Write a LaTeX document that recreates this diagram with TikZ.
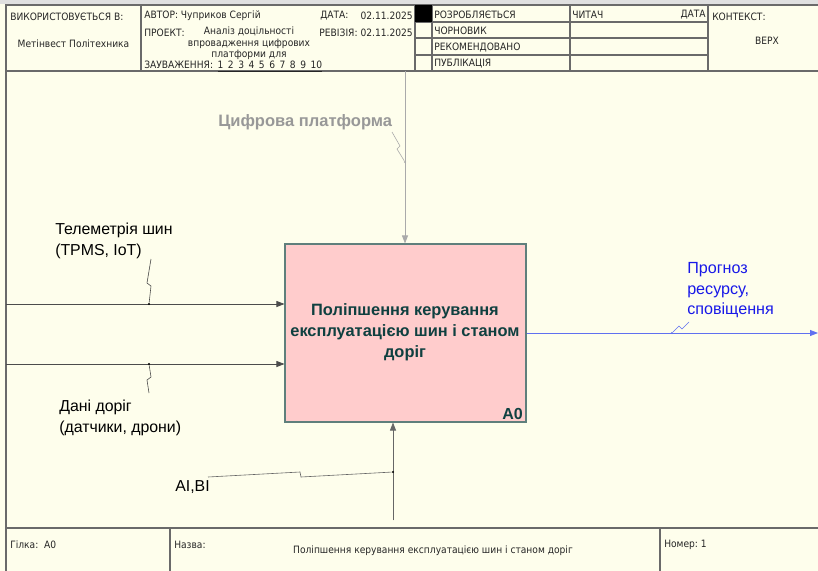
\documentclass[tikz,border=0pt]{standalone}
\usepackage{fontspec}
\setmainfont{Liberation Sans}
\newfontfamily\hdrfont[FakeStretch=0.9]{DejaVu Sans}
\usetikzlibrary{arrows.meta}
\definecolor{bg}{HTML}{FEFEEC}
\definecolor{framec}{HTML}{6A6A6A}
\definecolor{boxfill}{HTML}{FFCCCC}
\definecolor{boxdraw}{HTML}{5F7F7C}
\definecolor{boxtext}{HTML}{0F4040}
\definecolor{ctrlc}{HTML}{AAAAAA}
\definecolor{ctrltext}{HTML}{989898}
\definecolor{outc}{HTML}{6070F0}
\definecolor{outtext}{HTML}{1818E8}
\tikzset{
  frame/.style={draw=framec, line width=1.1pt},
  cell/.style={draw=framec, line width=0.8pt},
  hdr/.style={font=\hdrfont\fontsize{7.6}{9}\selectfont, inner sep=0pt, text=black!85},
  conn/.style={line width=0.6pt, -{Triangle[length=6pt,width=4.5pt]}},
  sq/.style={line width=0.45pt},
  lbl/.style={font=\fontsize{11.9}{15.6}\selectfont, inner sep=0pt, anchor=north west, align=left},
  dotmark/.style={circle, fill, inner sep=0pt, minimum size=1.8pt},
}
\newcommand{\gp}{\hspace{3.4pt}}
\begin{document}
\begin{tikzpicture}[x=0.75pt,y=-0.75pt]
\useasboundingbox (0,0) rectangle (818,571);
\fill[bg] (0,0) rectangle (818,571);
\fill[black!12] (0,0) rectangle (818,4);

% ---------- header ----------
\draw[frame] (6,71) -- (6,5) -- (818,5);
\draw[frame] (6,71) -- (818,71);
\foreach \xx in {141,415,432,570,708} \draw[cell] (\xx,5) -- (\xx,71);
\foreach \yy in {22,38,55} \draw[cell] (415,\yy) -- (708,\yy);
\fill[black] (415,5) rectangle (432,22);

\node[hdr, anchor=west] (used) at (10,17) {ВИКОРИСТОВУЄТЬСЯ В:};
\node[hdr] (org) at (73.5,44) {Метінвест Політехника};
\node[hdr, anchor=west] (author) at (144,16) {АВТОР: Чуприков Сергій};
\node[hdr, anchor=west] (datel) at (320,16) {ДАТА:};
\node[hdr, anchor=east] (datev) at (413,16) {02.11.2025};
\node[hdr, anchor=west] (proj) at (144,33) {ПРОЕКТ:};
\node[hdr, anchor=east] (rev) at (413,33) {РЕВІЗІЯ: 02.11.2025};
\node[hdr, font=\hdrfont\fontsize{7.6}{8.4}\selectfont, anchor=north, align=center] (projt) at (249,27) {Аналіз доцільності\\впровадження цифрових\\платформи для};
\node[hdr, anchor=west] (notes) at (144,66.5) {ЗАУВАЖЕННЯ:\gp\underline{1\gp 2\gp 3\gp 4\gp 5\gp 6\gp 7\gp 8\gp 9\gp 10}};
\node[hdr, anchor=west] (st1) at (434,14.5) {РОЗРОБЛЯЄТЬСЯ};
\node[hdr, anchor=west] (st2) at (434,31) {ЧОРНОВИК};
\node[hdr, anchor=west] (st3) at (434,47.5) {РЕКОМЕНДОВАНО};
\node[hdr, anchor=west] (st4) at (434,64) {ПУБЛІКАЦІЯ};
\node[hdr, anchor=west] (reader) at (572,14.5) {ЧИТАЧ};
\node[hdr, anchor=east] (rdate) at (706,14.5) {ДАТА};
\node[hdr, anchor=west] (ctx) at (712,17) {КОНТЕКСТ:};
\node[hdr] (top) at (767,41) {ВЕРХ};

% ---------- side frame and footer ----------
\draw[frame] (6,71) -- (6,571);
\draw[frame] (6,528) -- (818,528);
\foreach \xx in {170,660} \draw[cell] (\xx,528) -- (\xx,571);
\node[hdr, anchor=west] (node) at (10,545) {Гілка:\ \ A0};
\node[hdr, anchor=west] (title) at (174,545) {Назва:};
\node[hdr] (titlet) at (433,551) {Поліпшення керування експлуатацією шин і станом доріг};
\node[hdr, anchor=west] (num) at (664,545) {Номер:\ 1};

% ---------- activity box ----------
\node[draw=boxdraw, fill=boxfill, line width=0.8pt, minimum width=180.75pt, minimum height=133.5pt, inner sep=0pt] (A0) at (405.5,333) {};
\node[font=\bfseries\fontsize{12.3}{15.8}\selectfont, text=boxtext, align=center, inner sep=0pt] (A0t) at (405,332) {Поліпшення керування\\експлуатацією шин і станом\\доріг};
\node[font=\bfseries\fontsize{12}{13}\selectfont, text=boxtext, anchor=south east, inner sep=0pt] (A0n) at (523,420) {A0};

% ---------- inputs ----------
\coordinate (in1s) at (6,304);
\draw[conn, draw=black!70, fill=black] (in1s) -- (A0.west |- in1s);
\node[dotmark, black] (d1) at (149,304) {};
\draw[sq, black!70] (d1) -- (151,286) -- (147,283) -- (151,259);
\node[lbl] (l1) at (55,223) {Телеметрія шин\\(TPMS, IoT)};

\coordinate (in2s) at (6,364);
\draw[conn, draw=black!70, fill=black] (in2s) -- (A0.west |- in2s);
\node[dotmark, black] (d2) at (149,364) {};
\draw[sq, black!70] (d2) -- (151,377) -- (147,380) -- (149,393);
\node[lbl] (l2) at (59,400) {Дані доріг\\(датчики, дрони)};

% ---------- control ----------
\coordinate (cs) at (405,71);
\draw[conn, draw=ctrlc, fill=ctrlc] (cs) -- (cs |- A0.north);
\node[dotmark, ctrlc] (d3) at (405,162) {};
\draw[sq, ctrlc] (d3) -- (397,149) -- (400,146) -- (392,132);
\node[lbl, font=\bfseries\fontsize{12.4}{15.6}\selectfont, text=ctrltext] (l3) at (218,114) {Цифрова платформа};

% ---------- output ----------
\coordinate (oe) at (818,333);
\draw[conn, draw=outc, fill=outtext] (A0.east |- oe) -- (oe);
\node[dotmark, outc] (d4) at (672,333) {};
\draw[sq, outc] (d4) -- (679,326) -- (682,329) -- (689,322);
\node[lbl, font=\fontsize{12.1}{15.6}\selectfont, text=outtext] (l4) at (687,262) {Прогноз\\ресурсу,\\сповіщення};

% ---------- mechanism ----------
\coordinate (ms) at (393,520);
\draw[conn, draw=black!60, fill=black] (ms) -- (ms |- A0.south);
\node[dotmark, black] (d5) at (393,472) {};
\draw[sq, black!60] (d5) -- (301,477) -- (300,472) -- (208,477);
\node[lbl] (l5) at (175,480) {AI,BI};
\end{tikzpicture}
\end{document}
